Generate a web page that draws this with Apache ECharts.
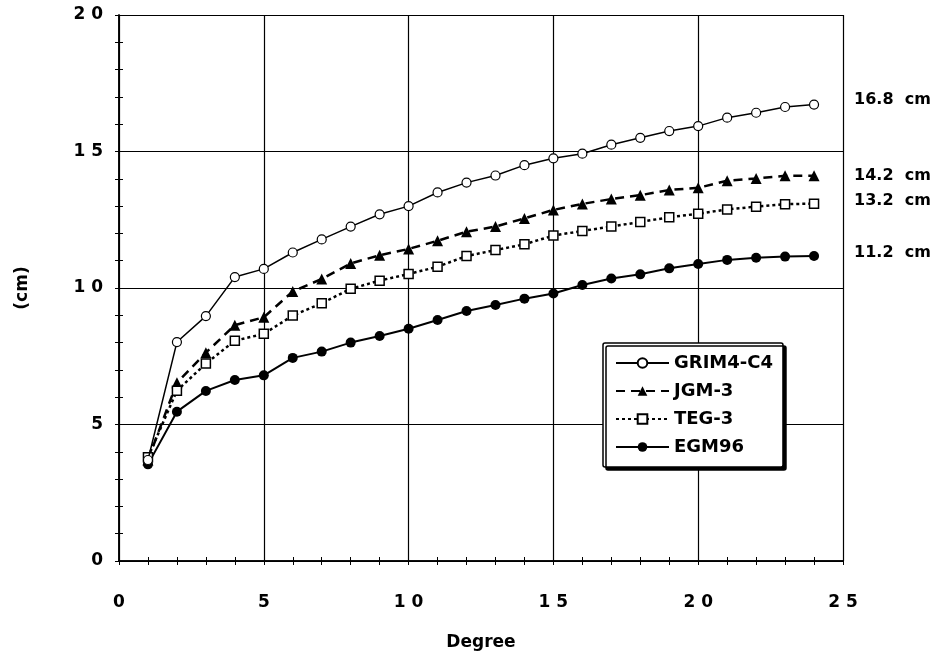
<!DOCTYPE html>
<html>
<head>
<meta charset="utf-8">
<script src="https://cdn.jsdelivr.net/npm/echarts@6/dist/echarts.min.js"></script>
<style>html,body{margin:0;padding:0;background:#fff}#c{width:943px;height:658px}</style>
</head>
<body>
<div id="c"></div>
<script>
var degrees = [1,2,3,4,5,6,7,8,9,10,11,12,13,14,15,16,17,18,19,20,21,22,23,24];
var grim4 = [3.7,8.02,8.97,10.4,10.7,11.3,11.78,12.25,12.7,13.0,13.5,13.86,14.12,14.5,14.75,14.92,15.25,15.5,15.75,15.93,16.24,16.42,16.63,16.72];
var jgm3  = [3.7,6.53,7.63,8.64,8.93,9.87,10.33,10.9,11.2,11.43,11.73,12.06,12.25,12.55,12.86,13.08,13.26,13.4,13.59,13.67,13.93,14.01,14.11,14.11];
var teg3  = [3.8,6.24,7.23,8.07,8.32,8.99,9.44,9.97,10.27,10.51,10.78,11.17,11.39,11.6,11.92,12.09,12.25,12.42,12.59,12.72,12.88,12.98,13.07,13.09];
var egm96 = [3.54,5.47,6.23,6.63,6.8,7.44,7.67,8.0,8.24,8.51,8.83,9.16,9.38,9.61,9.8,10.11,10.35,10.5,10.72,10.88,11.03,11.11,11.15,11.17];
var seriesNames = ['GRIM4-C4','JGM-3','TEG-3','EGM96'];
var endLabels = ['16.8  cm','14.2  cm','13.2  cm','11.2  cm'];
var xTickLabels = {0:'0',5:'5',10:'1 0',15:'1 5',20:'2 0',25:'2 5'};
var yTickLabels = {0:'0',5:'5',10:'1 0',15:'1 5',20:'2 0'};

var FONT = 'DejaVu Sans';
function pairs(arr){ return degrees.map(function(d,i){ return [d, arr[i]]; }); }
var labelFont = {fontFamily: FONT, fontWeight: 'bold', fontSize: 17, color: '#000'};

var chart = echarts.init(document.getElementById('c'), null, {renderer: 'canvas'});
var axisCommon = {
  min: 0, interval: 5,
  axisLine: {show: true, lineStyle: {color: '#000', width: 1.5}},
  axisTick: {show: true, inside: true, length: 4, lineStyle: {color: '#000', width: 1}},
  minorTick: {show: true, splitNumber: 5, length: 4, lineStyle: {color: '#000', width: 1}}
};
function endLbl(i, dy){
  return {show: true, formatter: function(){ return endLabels[i]; }, distance: 40, offset: [0, dy],
    fontFamily: FONT, fontWeight: 'bold', fontSize: 16, color: '#000'};
}
chart.setOption({
  backgroundColor: '#fff',
  animation: false,
  grid: {left: 119, right: 100, top: 15, bottom: 97, outerBoundsMode: 'none', containLabel: false},
  legend: {
    left: 603, top: 343, orient: 'vertical',
    data: seriesNames,
    itemWidth: 53, itemHeight: 12, itemGap: 8,
    padding: [10, 10, 10, 12],
    backgroundColor: '#fff', borderColor: '#000', borderWidth: 1.5, borderRadius: 2,
    shadowColor: '#000', shadowBlur: 0, shadowOffsetX: 3, shadowOffsetY: 3,
    textStyle: {fontFamily: FONT, fontWeight: 'bold', fontSize: 18, color: '#000', lineHeight: 20}
  },
  xAxis: [
    Object.assign({}, axisCommon, {
      type: 'value', max: 25, position: 'bottom',
      splitLine: {show: true, lineStyle: {color: '#000', width: 1.2}},
      axisLabel: Object.assign({margin: 33, formatter: function(v){ return xTickLabels[v]; }}, labelFont),
      name: 'Degree', nameLocation: 'middle', nameGap: 73,
      nameTextStyle: {fontFamily: FONT, fontWeight: 'bold', fontSize: 17, color: '#000'}
    }),
    Object.assign({}, axisCommon, {
      type: 'value', max: 25, position: 'top',
      splitLine: {show: false}, axisLabel: {show: false}
    })
  ],
  yAxis: [
    Object.assign({}, axisCommon, {
      type: 'value', max: 20, position: 'left',
      splitLine: {show: true, lineStyle: {color: '#000', width: 1.2}},
      axisLabel: Object.assign({margin: 16, formatter: function(v){ return yTickLabels[v]; }}, labelFont),
      name: '(cm)', nameLocation: 'middle', nameGap: 88, nameRotate: 90,
      nameTextStyle: {fontFamily: FONT, fontWeight: 'bold', fontSize: 17, color: '#000'}
    }),
    Object.assign({}, axisCommon, {
      type: 'value', max: 20, position: 'right',
      splitLine: {show: false}, axisLabel: {show: false}
    })
  ],
  series: [
    {
      name: seriesNames[0], type: 'line', data: pairs(grim4),
      symbol: 'circle', symbolSize: 9,
      itemStyle: {color: '#fff', borderColor: '#000', borderWidth: 1.2},
      lineStyle: {color: '#000', width: 1.5},
      endLabel: endLbl(0, -5), z: 4
    },
    {
      name: seriesNames[1], type: 'line', data: pairs(jgm3),
      symbol: 'triangle', symbolSize: 11,
      itemStyle: {color: '#000', borderColor: '#000', borderWidth: 0},
      lineStyle: {color: '#000', width: 2.5, type: [9, 6]},
      endLabel: endLbl(1, 0), z: 3
    },
    {
      name: seriesNames[2], type: 'line', data: pairs(teg3),
      symbol: 'rect', symbolSize: 9,
      itemStyle: {color: '#fff', borderColor: '#000', borderWidth: 1.5},
      lineStyle: {color: '#000', width: 2.5, type: [3, 3]},
      endLabel: endLbl(2, -3), z: 3
    },
    {
      name: seriesNames[3], type: 'line', data: pairs(egm96),
      symbol: 'circle', symbolSize: 10,
      itemStyle: {color: '#000', borderColor: '#000', borderWidth: 0},
      lineStyle: {color: '#000', width: 2},
      endLabel: endLbl(3, -3), z: 2
    }
  ]
});
</script>
</body>
</html>
